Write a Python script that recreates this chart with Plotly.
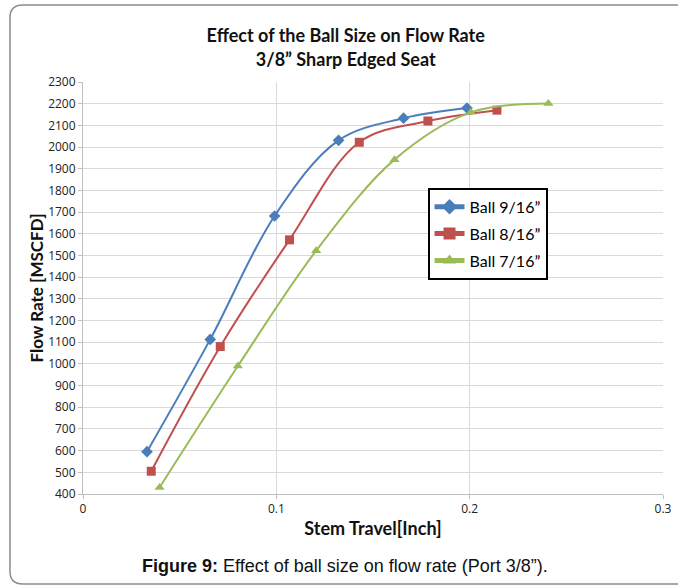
import plotly.graph_objects as go

# Data
stem_9_16 = [0.0331, 0.0658, 0.0991, 0.1322, 0.1658, 0.1986]
flow_9_16 = [595, 1113, 1682, 2031, 2133, 2180]
stem_8_16 = [0.0353, 0.0710, 0.1068, 0.1429, 0.1784, 0.2141]
flow_8_16 = [505, 1080, 1572, 2022, 2120, 2170]
stem_7_16 = [0.0396, 0.0801, 0.1206, 0.1611, 0.2006, 0.2407]
flow_7_16 = [430, 990, 1522, 1942, 2160, 2201]

series_names = ["Ball 9/16\u201d", "Ball 8/16\u201d", "Ball 7/16\u201d"]
colors = ["#4A7EBB", "#C0504D", "#9BBB59"]
symbols = ["diamond", "square", "triangle-up"]
sizes = [9, 9, 9]

fig = go.Figure()
for xs, ys, name, c, s, sz in zip(
    [stem_9_16, stem_8_16, stem_7_16],
    [flow_9_16, flow_8_16, flow_7_16],
    series_names, colors, symbols, sizes,
):
    fig.add_trace(go.Scatter(
        x=xs, y=ys, name=name, mode="lines+markers", legendgroup=name,
        line=dict(color=c, width=2, shape="spline", smoothing=1.0),
        marker=dict(color=c, symbol=s, size=sz),
    ))

grid_col = "#D9D9D9"
tick_font = dict(family="Open Sans, Arial", size=12, color="#222")
head_font = "Lato, Open Sans"

fig.update_layout(
    width=678, height=585,
    margin=dict(l=83, r=15, t=82, b=91),
    paper_bgcolor="white", plot_bgcolor="white",
    title=dict(
        text="Effect of the Ball Size on Flow Rate<br>3/8\u201d Sharp Edged Seat",
        x=0.453, xref="paper", xanchor="center",
        y=0.928, yref="container", yanchor="middle",
        font=dict(family=head_font, size=18, color="#111", weight="bold"),
    ),
    showlegend=True,
    legend=dict(
        x=0.594, y=0.743, xanchor="left", yanchor="top",
        bgcolor="white", bordercolor="#000", borderwidth=2,
        font=dict(family=head_font, size=16, color="#000"),
        itemsizing="constant", tracegroupgap=3, itemwidth=30,
    ),
    xaxis=dict(
        range=[0, 0.3], tickvals=[0, 0.1, 0.2, 0.3], ticktext=["0", "0.1", "0.2", "0.3"],
        showgrid=True, gridcolor=grid_col, gridwidth=1,
        showline=True, linecolor="#BFBFBF", linewidth=1,
        ticks="outside", ticklen=4, tickcolor="#BFBFBF",
        zeroline=False, tickfont=tick_font, automargin=False,
        title=dict(text="<b>Stem Travel[Inch]</b>", standoff=5,
                   font=dict(family=head_font, size=18, color="#111")),
    ),
    yaxis=dict(
        range=[400, 2300], dtick=100, tick0=400,
        showgrid=True, gridcolor=grid_col, gridwidth=1,
        showline=True, linecolor="#BFBFBF", linewidth=1,
        ticks="outside", ticklen=4, tickcolor="#BFBFBF",
        zeroline=False, tickfont=tick_font, automargin=False,
        title=dict(text="<b>Flow Rate [MSCFD]</b>", standoff=0,
                   font=dict(family=head_font, size=17, color="#111")),
    ),
)

# Rounded chart frame (paper coords)
L, T, B, R = -0.1259, 1.1869, -0.2184, 1.3
rx, ry = 0.022, 0.031
path = (f"M {R},{T} L {L+rx},{T} Q {L},{T} {L},{T-ry} "
        f"L {L},{B+ry} Q {L},{B} {L+rx},{B} L {R},{B}")
fig.add_shape(type="path", path=path, xref="paper", yref="paper",
              line=dict(color="#8C8C8C", width=1.5))

fig.add_annotation(
    text="<b>Figure 9:</b> Effect of ball size on flow rate (Port 3/8\u201d).",
    x=0.452, y=-0.1745, xref="paper", yref="paper",
    xanchor="center", yanchor="middle", showarrow=False,
    font=dict(family="Liberation Sans, Arial", size=18, color="#111"),
)

fig.write_html("out.html")
